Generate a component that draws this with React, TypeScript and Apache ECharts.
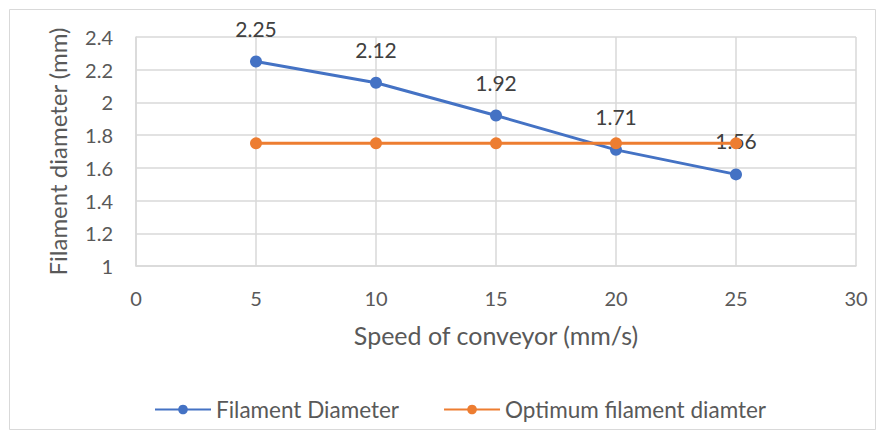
import React, { useEffect, useRef } from "react";
import * as echarts from "echarts";

const speeds = [5, 10, 15, 20, 25];
const filamentDiameter = [2.25, 2.12, 1.92, 1.71, 1.56];
const optimumDiameter = [1.75, 1.75, 1.75, 1.75, 1.75];
const seriesNames = ["Filament Diameter", "Optimum filament diamter"];
const xTitle = "Speed of conveyor (mm/s)";
const yTitle = "Filament diameter (mm)";

const FONT = "Lato, 'Open Sans', sans-serif";

export default function App() {
  const ref = useRef<HTMLDivElement>(null);
  useEffect(() => {
    document.body.style.margin = "0";
    const chart = echarts.init(ref.current!, null, { renderer: "svg" });
    chart.setOption({
      animation: false,
      backgroundColor: "#ffffff",
      graphic: [
        {
          type: "rect",
          shape: { x: 9.5, y: 9.5, width: 866, height: 420 },
          style: { fill: "none", stroke: "#d9d9d9", lineWidth: 1 },
          silent: true,
        },
      ],
      grid: { left: 136, right: 29, top: 37, bottom: 173 },
      legend: {
        top: 393,
        left: 149,
        itemGap: 44,
        itemWidth: 56,
        itemHeight: 12,
        textStyle: { fontFamily: FONT, fontSize: 22.5, color: "#595959" },
        data: seriesNames,
      },
      xAxis: {
        type: "value",
        min: 0,
        max: 30,
        interval: 5,
        name: xTitle,
        nameLocation: "middle",
        nameGap: 56,
        nameTextStyle: { fontFamily: FONT, fontSize: 25, color: "#595959" },
        axisLine: { show: true, lineStyle: { color: "#d9d9d9", width: 1.5 } },
        axisTick: { show: false },
        axisLabel: { fontFamily: FONT, fontSize: 20, color: "#595959", margin: 22 },
        splitLine: { show: true, lineStyle: { color: "#d9d9d9", width: 1.5 } },
      },
      yAxis: {
        type: "value",
        min: 1,
        max: 2.4,
        interval: 0.2,
        name: yTitle,
        nameLocation: "middle",
        nameGap: 67,
        nameTextStyle: { fontFamily: FONT, fontSize: 24, color: "#595959" },
        axisLine: { show: true, lineStyle: { color: "#d9d9d9", width: 1.5 } },
        axisTick: { show: false },
        axisLabel: {
          fontFamily: FONT,
          fontSize: 20,
          color: "#595959",
          margin: 23,
          formatter: (v: number) => String(Math.round(v * 10) / 10),
        },
        splitLine: { show: true, lineStyle: { color: "#d9d9d9", width: 1.5 } },
      },
      series: [
        {
          name: seriesNames[0],
          type: "line",
          data: speeds.map((s, i) => [s, filamentDiameter[i]]),
          symbol: "circle",
          symbolSize: 12,
          lineStyle: { color: "#4472C4", width: 3 },
          itemStyle: { color: "#4472C4" },
          label: {
            show: true,
            position: "top",
            distance: 17,
            fontFamily: FONT,
            fontSize: 21,
            color: "#404040",
            formatter: (p: any) => p.value[1].toFixed(2),
          },
          z: 2,
        },
        {
          name: seriesNames[1],
          type: "line",
          data: speeds.map((s, i) => [s, optimumDiameter[i]]),
          symbol: "circle",
          symbolSize: 12,
          lineStyle: { color: "#ED7D31", width: 3 },
          itemStyle: { color: "#ED7D31" },
          z: 3,
        },
      ],
    });
    return () => chart.dispose();
  }, []);
  return <div ref={ref} style={{ width: 885, height: 439 }} />;
}
